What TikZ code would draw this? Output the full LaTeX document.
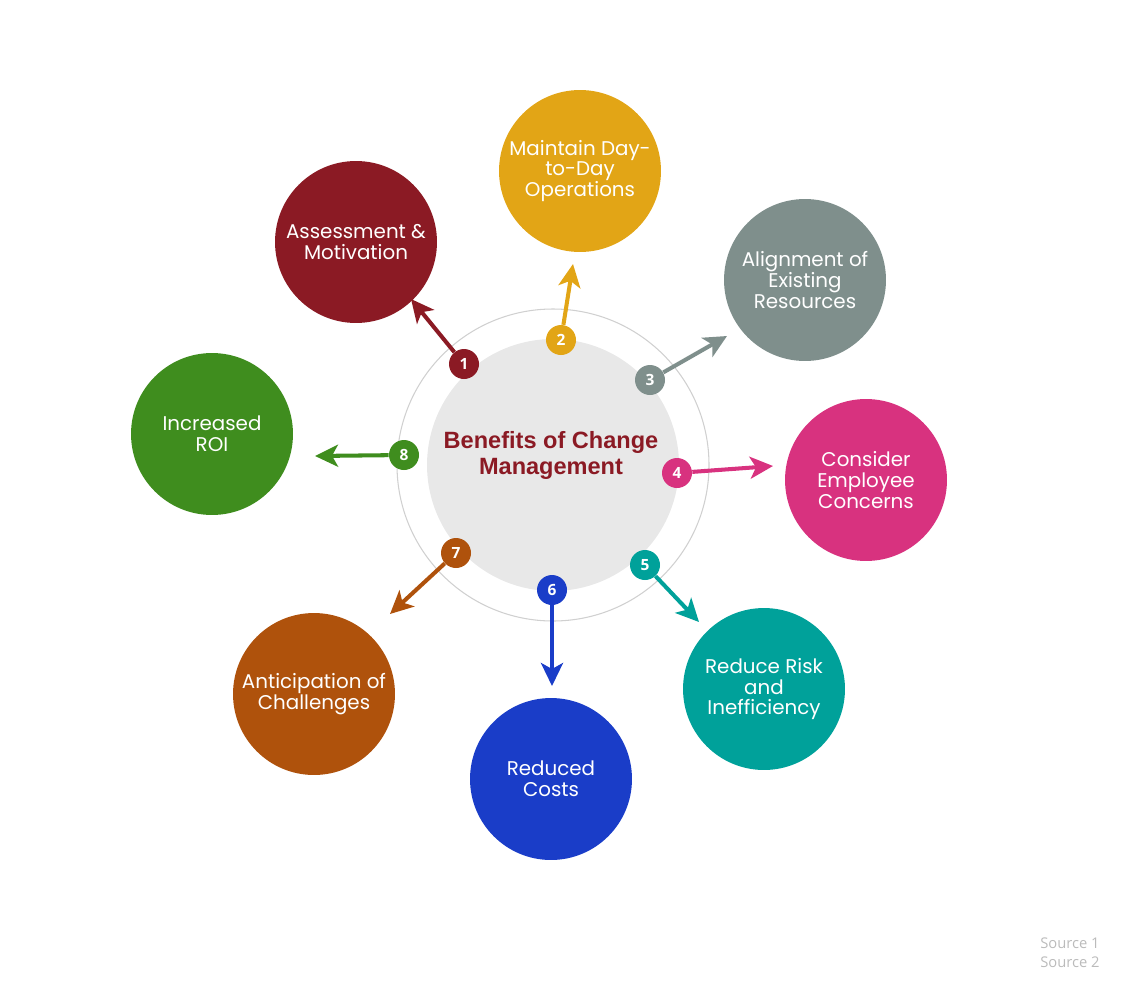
\documentclass[tikz,border=0pt]{standalone}
\usepackage{fontspec}
\setmainfont{Poppins}
\newfontfamily\centerfont{Liberation Sans}
\newfontfamily\numfont{Open Sans}
\usepackage{xcolor}
\usepackage{tikz}
\usetikzlibrary{arrows}
\usetikzlibrary{arrows.meta}
\definecolor{cmaroon}{HTML}{8B1A24}
\definecolor{cgold}{HTML}{E2A516}
\definecolor{cgrey}{HTML}{7F8F8C}
\definecolor{cpink}{HTML}{D8327F}
\definecolor{cteal}{HTML}{00A19A}
\definecolor{cblue}{HTML}{1A3DC8}
\definecolor{cbrown}{HTML}{AF520C}
\definecolor{cgreen}{HTML}{3F8D1E}
\definecolor{cdisk}{HTML}{E8E8E8}
\definecolor{cring}{HTML}{D0D0D0}
\definecolor{csrc}{HTML}{BBBBBB}

\begin{document}
\begin{tikzpicture}[x=0.02cm, y=-0.02cm,
    big/.style={circle, minimum size=3.24cm, inner sep=0pt, text=white, align=center,
        font=\fontsize{11.3}{11.8}\selectfont},
    badge/.style={circle, minimum size=0.6cm, inner sep=0pt, text=white,
        font=\numfont\bfseries\fontsize{8.8}{8.8}\selectfont},
    arr/.style={line width=2.3pt, -{Stealth[length=0.46cm, width=0.44cm, inset=0.12cm]}}]
    \useasboundingbox (0,0) rectangle (1122,994);

    \draw[cring, line width=0.6pt] (553,465) circle (156);
    \node[circle, fill=cdisk, minimum size=5.04cm, inner sep=0pt] (M) at (553,465) {};
    \node[text=cmaroon, align=center, font=\centerfont\bfseries\fontsize{13.4}{14.8}\selectfont]
        (MT) at (551,455) {Benefits of Change\\Management};

    \node[big, fill=cmaroon] (C1) at (356,242) {Assessment \&\\Motivation};
    \node[big, fill=cgold] (C2) at (580,171) {Maintain Day-\\to-Day\\Operations};
    \node[big, fill=cgrey] (C3) at (805,280) {Alignment of\\Existing\\Resources};
    \node[big, fill=cpink] (C4) at (866,480) {Consider\\Employee\\Concerns};
    \node[big, fill=cteal] (C5) at (764,689) {Reduce Risk\\and\\Inefficiency};
    \node[big, fill=cblue] (C6) at (551,779) {Reduced\\Costs};
    \node[big, fill=cbrown] (C7) at (314,694) {Anticipation of\\Challenges};
    \node[big, fill=cgreen] (C8) at (212,434) {Increased\\ROI};

    \node[badge, fill=cmaroon] (N1) at (464,364) {1};
    \node[badge, fill=cgold] (N2) at (561,340) {2};
    \node[badge, fill=cgrey] (N3) at (650,380) {3};
    \node[badge, fill=cpink] (N4) at (677,473) {4};
    \node[badge, fill=cteal] (N5) at (645,565) {5};
    \node[badge, fill=cblue] (N6) at (552,590) {6};
    \node[badge, fill=cbrown] (N7) at (456,553) {7};
    \node[badge, fill=cgreen] (N8) at (404,455) {8};

    \coordinate (T1) at (411,299);
    \coordinate (T2) at (573,264);
    \coordinate (T3) at (727,336);
    \coordinate (T4) at (773,466);
    \coordinate (T5) at (699,622);
    \coordinate (T6) at (552,686);
    \coordinate (T7) at (390,614);
    \coordinate (T8) at (315,456);

    \draw[arr, cmaroon] (N1) -- (T1);
    \draw[arr, cgold] (N2) -- (T2);
    \draw[arr, cgrey] (N3) -- (T3);
    \draw[arr, cpink] (N4) -- (T4);
    \draw[arr, cteal] (N5) -- (T5);
    \draw[arr, cblue] (N6) -- (T6);
    \draw[arr, cbrown] (N7) -- (T7);
    \draw[arr, cgreen] (N8) -- (T8);

    \node[anchor=north east, align=right, inner sep=0pt, text=csrc,
        font=\numfont\fontsize{8.4}{10.8}\selectfont] (S) at (1100,937) {Source 1\\Source 2};
\end{tikzpicture}
\end{document}
